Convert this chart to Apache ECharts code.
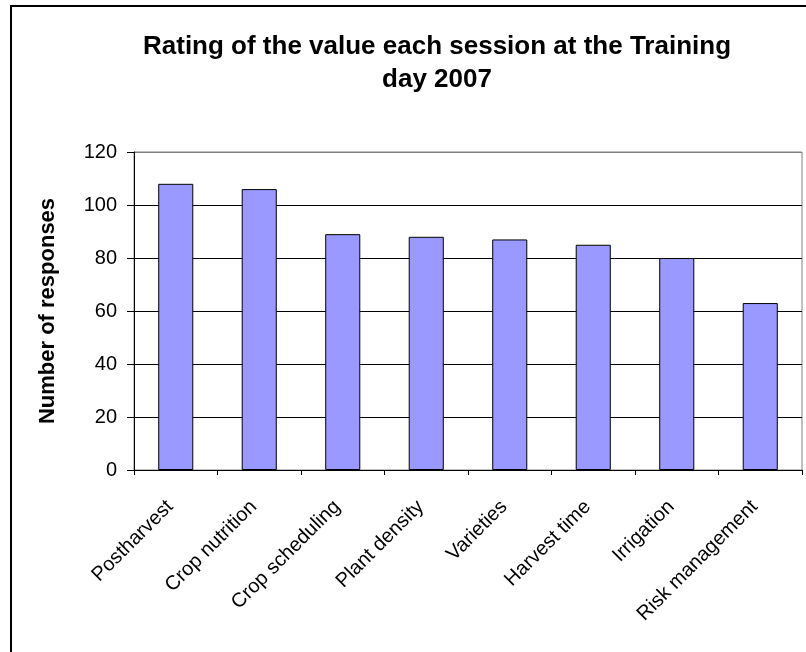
<!DOCTYPE html>
<html>
<head>
<meta charset="utf-8">
<script src="https://cdn.jsdelivr.net/npm/echarts@6/dist/echarts.min.js"></script>
<style>
  html, body { margin: 0; padding: 0; background: #fff; }
  #chart { width: 806px; height: 652px; }
</style>
</head>
<body>
<div id="chart"></div>
<script>
const sessions = ['Postharvest', 'Crop nutrition', 'Crop scheduling', 'Plant density',
  'Varieties', 'Harvest time', 'Irrigation', 'Risk management']
const responses = [108, 106, 89, 88, 87, 85, 80, 63]
const titleText = 'Rating of the value each session at the Training\nday 2007'
const yName = 'Number of responses'

const chart = echarts.init(document.getElementById('chart'))

const font = 'Liberation Sans, Arial, sans-serif'

const option = {
  animation: false,
  backgroundColor: '#fff',
  // outer chart frame (only top and left edges fall inside the picture)
  graphic: [{
    type: 'rect',
    shape: { x: 11, y: 6, width: 900, height: 700 },
    style: { fill: 'none', stroke: '#000', lineWidth: 2 },
    silent: true
  }],
  title: {
    text: titleText,
    left: 432,
    top: 25,
    textAlign: 'center',
    textStyle: {
      fontFamily: font,
      fontWeight: 'bold',
      fontSize: 26,
      lineHeight: 33,
      color: '#000'
    }
  },
  grid: {
    left: 134,
    right: 4,
    top: 152,
    bottom: 182,
    show: true,
    borderColor: '#808080',
    borderWidth: 1
  },
  xAxis: {
    type: 'category',
    data: sessions,
    axisLine: { lineStyle: { color: '#000', width: 1 } },
    axisTick: { show: true, length: 5, lineStyle: { color: '#000' } },
    axisLabel: {
      interval: 0,
      rotate: 45,
      margin: 28,
      padding: [0, 8, 0, 0],
      fontFamily: font,
      fontSize: 20,
      color: '#000'
    },
    splitLine: { show: false }
  },
  yAxis: {
    type: 'value',
    min: 0,
    max: 120,
    interval: 20,
    name: yName,
    nameLocation: 'middle',
    nameRotate: 90,
    nameGap: 75,
    nameTextStyle: {
      fontFamily: font,
      fontWeight: 'bold',
      fontSize: 22,
      color: '#000'
    },
    axisLine: { show: true, lineStyle: { color: '#000', width: 1 } },
    axisTick: { show: true, length: 7, lineStyle: { color: '#000' } },
    axisLabel: {
      margin: 17,
      fontFamily: font,
      fontSize: 20,
      color: '#000'
    },
    splitLine: {
      show: true,
      lineStyle: {
        color: ['#000', '#000', '#000', '#000', '#000', '#000', '#808080'],
        width: 1
      }
    }
  },
  series: [{
    type: 'bar',
    data: responses,
    barWidth: '42%',
    itemStyle: {
      color: '#9999FF',
      borderColor: '#000',
      borderWidth: 1
    }
  }]
}

chart.setOption(option)
</script>
</body>
</html>
